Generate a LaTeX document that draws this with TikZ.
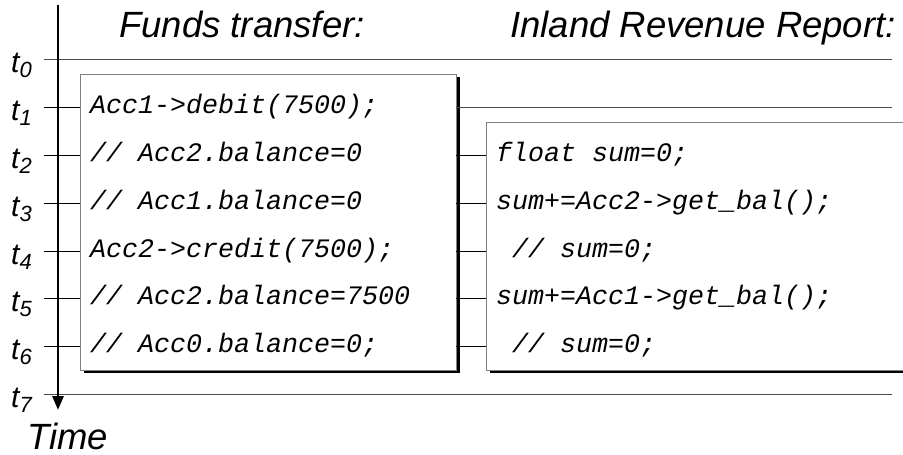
\documentclass[tikz,border=0pt]{standalone}
\usepackage{fontspec}
\setmainfont{Liberation Sans}
\newfontfamily\codefont{Liberation Mono}
\usetikzlibrary{arrows.meta,shadows}

\begin{document}
\begin{tikzpicture}[x=1pt,y=-1pt,
  title/.style={inner sep=0pt, font=\fontsize{36.5}{42}\selectfont\itshape},
  tlabel/.style={inner sep=0pt, anchor=base west, font=\fontsize{30}{34}\selectfont\itshape},
  code/.style={inner sep=0pt, anchor=base west, font=\codefont\fontsize{26.67}{30}\selectfont\itshape},
  panel/.style={draw=black!50, line width=1pt, fill=white, outer sep=0pt, inner sep=0pt,
    drop shadow={shadow xshift=3.5pt, shadow yshift=-3pt, fill=black, opacity=1}},
  rule/.style={draw=black!70, line width=1.3pt},
  tickline/.style={draw=black, line width=1pt},
  axisline/.style={draw=black, line width=2.7pt, -{Triangle[width=11pt,length=14pt]}}
]
\useasboundingbox (0,0) rectangle (903,455);

% time rows t0..t7
\foreach \i in {0,...,7}
  \coordinate (r\i) at (0,{59.4+47.9*\i});
\coordinate (tickstart) at (44,0);
\coordinate (ruleend) at (892,0);
\coordinate (axtop) at (58,5);
\coordinate (axbot) at (58,410);

% the two transaction panels
\node[panel, minimum width=376pt, minimum height=296pt] (funds) at (268,222) {};
\node[panel, minimum width=464pt, minimum height=248pt] (ir) at (718,246) {};

% headings
\node[title, anchor=base west] (htransfer) at (119,37) {Funds transfer:};
\node[title, anchor=base east] (hreport) at (896,37) {Inland Revenue Report:};
\node[title, anchor=base west] (htime) at (27,449) {Time};

% long rules
\draw[rule] (tickstart|-r0) -- (ruleend|-r0);
\draw[rule] (funds.east|-r1) -- (ruleend|-r1);
\draw[rule] (tickstart|-r7) -- (ruleend|-r7);

% ticks into the first panel
\foreach \i in {1,...,6}
  \draw[tickline] (tickstart|-r\i) -- (funds.west|-r\i);
% ticks between the panels
\foreach \i in {2,...,6}
  \draw[tickline] (funds.east|-r\i) -- (ir.west|-r\i);

% time axis
\draw[axisline] (axtop) -- (axbot);

% row labels
\foreach \i in {0,...,7}
  \node[tlabel] (lab\i) at (11,{59.4+47.9*\i+13})
    {t\raisebox{-5pt}{\fontsize{22}{24}\selectfont\itshape \i}};

% funds transfer code
\node[code] (f1) at (90,{107.3+6}) {Acc1->debit(7500);};
\node[code] (f2) at (90,{155.2+6}) {// Acc2.balance=0};
\node[code] (f3) at (90,{203.1+6}) {// Acc1.balance=0};
\node[code] (f4) at (90,{251.0+6}) {Acc2->credit(7500);};
\node[code] (f5) at (90,{298.9+6}) {// Acc2.balance=7500};
\node[code] (f6) at (90,{346.8+6}) {// Acc0.balance=0;};

% report code
\node[code] (s2) at (496,{155.2+6}) {float sum=0;};
\node[code] (s3) at (496,{203.1+6}) {sum+=Acc2->get\_bal();};
\node[code] (s4) at (512,{251.0+6}) {// sum=0;};
\node[code] (s5) at (496,{298.9+6}) {sum+=Acc1->get\_bal();};
\node[code] (s6) at (512,{346.8+6}) {// sum=0;};
\end{tikzpicture}
\end{document}
